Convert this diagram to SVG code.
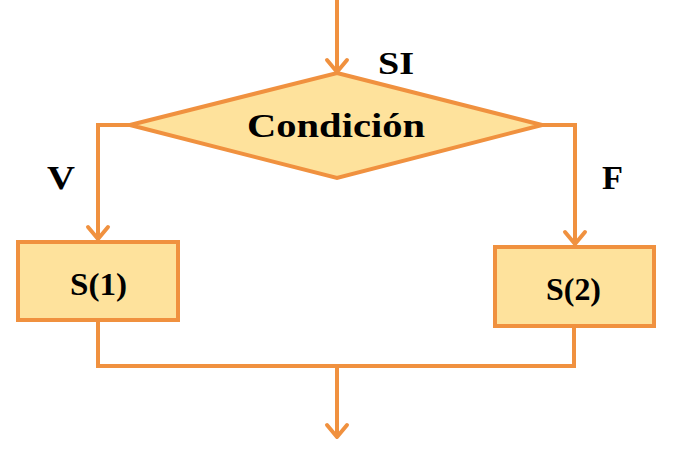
<svg xmlns="http://www.w3.org/2000/svg" width="673" height="468" viewBox="0 0 673 468">
<style>
.shape{fill:#FEE29C;stroke:#F0913F;stroke-width:4}
.line{fill:none;stroke:#F0913F;stroke-width:4;stroke-linejoin:miter}
.head{fill:none;stroke:#F0913F;stroke-width:4;stroke-linecap:round;stroke-linejoin:round}
.t{font-family:"Liberation Serif","Times New Roman",serif;font-weight:bold;fill:#000}
</style>
<rect width="673" height="468" fill="#fff"/>
<g id="connectors">
<path class="line" d="M337,0 V72"/>
<path class="head" d="M327,60 L337,72 L347,60"/>
<path class="line" d="M130,125 H98 V239"/>
<path class="head" d="M88,227 L98,239 L108,227"/>
<path class="line" d="M542,125 H575 V244"/>
<path class="head" d="M565,232 L575,244 L585,232"/>
<path class="line" d="M98,321 V366 H574 V326"/>
<path class="line" d="M337,366 V437"/>
<path class="head" d="M327,425 L337,437 L347,425"/>
</g>
<g id="decision">
<polygon class="shape" points="337,73 542,125 337,178 130,125"/>
<text class="t" x="247" y="137" font-size="34" textLength="178" lengthAdjust="spacingAndGlyphs">Condición</text>
</g>
<g id="s1">
<rect class="shape" x="18" y="242" width="160" height="78"/>
<text class="t" x="70" y="295" font-size="31" textLength="57" lengthAdjust="spacingAndGlyphs">S(1)</text>
</g>
<g id="s2">
<rect class="shape" x="495" y="247" width="159" height="79"/>
<text class="t" x="546" y="300" font-size="31" textLength="55" lengthAdjust="spacingAndGlyphs">S(2)</text>
</g>
<g id="labels">
<text class="t" x="378" y="74" font-size="32" textLength="36" lengthAdjust="spacingAndGlyphs">SI</text>
<text class="t" x="47" y="189" font-size="33" textLength="28" lengthAdjust="spacingAndGlyphs">V</text>
<text class="t" x="602" y="189" font-size="33" textLength="21" lengthAdjust="spacingAndGlyphs">F</text>
</g>
</svg>
